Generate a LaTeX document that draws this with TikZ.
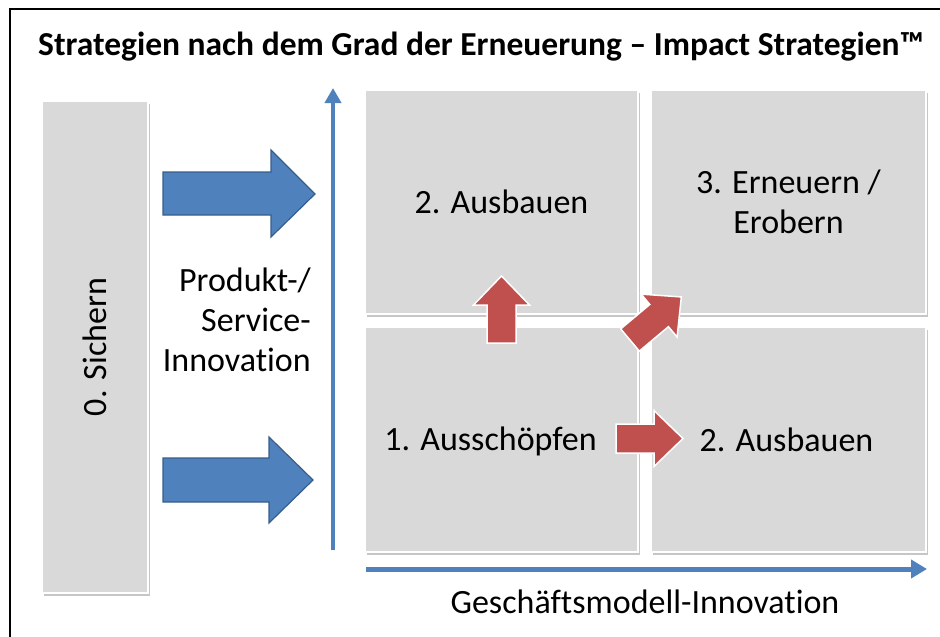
\documentclass[tikz,border=0pt]{standalone}
\usepackage{fontspec}
\setmainfont{Carlito}[Ligatures={NoCommon}]
\usetikzlibrary{arrows.meta,shadows}
\definecolor{boxgray}{HTML}{D9D9D9}
\definecolor{axisblue}{HTML}{4F81BD}
\definecolor{edgeblue}{HTML}{385D8A}
\definecolor{stepred}{HTML}{C0504D}

\begin{document}
\begin{tikzpicture}[x=1pt,y=-1pt,
  every node/.style={font=\fontsize{34}{40}\selectfont,inner sep=0pt},
  field/.style={rectangle,fill=boxgray,draw=white,line width=1.5pt,
    drop shadow={shadow xshift=2pt,shadow yshift=-3pt,fill=black!50,opacity=.45}},
  blockarrow/.style={fill=axisblue,draw=edgeblue,line width=1.2pt,line join=miter},
  redarrow/.style={fill=stepred,draw=white,line width=1.5pt,line join=miter},
  axis/.style={axisblue,line width=4pt}]
\useasboundingbox (0,0) rectangle (940,637);
% frame and title
\draw[line width=2.5pt] (10,637) |- (940,9);
\node[font=\fontsize{33.5}{40}\selectfont\bfseries] (title) at (481,47) {Strategien nach dem Grad der Erneuerung – Impact Strategien™};
% left column
\node[field,minimum width=106pt,minimum height=492pt] (sichern) at (95,347) {};
\node[rotate=90] (sichernText) at (sichern) {0. Sichern};
% blue block arrows
\draw[blockarrow] (163,172) -- (271,172) -- (271,150) -- (315,194) -- (271,237) -- (271,215) -- (163,215) -- cycle;
\draw[blockarrow] (163,458) -- (269,458) -- (269,437) -- (313,480) -- (269,523) -- (269,502) -- (163,502) -- cycle;
\node[align=right,anchor=east] (produkt) at (311,320) {Produkt-/\\Service-\\Innovation};
% axes
\coordinate (vBot) at (333,550);
\coordinate (vTop) at (333,88);
\coordinate (hLeft) at (366,569);
\coordinate (hRight) at (927,569);
\draw[axis,-{Triangle[length=15pt,width=16pt]}] (vBot) -- (vTop);
\draw[axis,line width=5pt,-{Triangle[length=16pt,width=18pt]}] (hLeft) -- (hRight);
\node (geschaeft) at (645,602) {Geschäftsmodell-Innovation};
% quadrants
\node[field,minimum width=273pt,minimum height=224pt] (tl) at (501.5,202) {2. Ausbauen};
\node[field,minimum width=275pt,minimum height=224pt,align=center] (tr) at (788.5,202) {3. Erneuern /\\Erobern};
\node[field,minimum width=273pt,minimum height=225pt] (bl) at (501.5,439.5) {};
\node[field,minimum width=275pt,minimum height=225pt] (br) at (788.5,439.5) {};
\node (ausschoepfen) at ([xshift=-11pt,yshift=-2pt]bl.center) {1. Ausschöpfen};
\node (ausbauenBr) at ([xshift=-2pt]br.center) {2. Ausbauen};
% red step arrows
\foreach \pos/\ang in {{(501.5,343)}/90,{(630,340)}/40,{(616,438.5)}/0}
  \draw[redarrow,shift={\pos},rotate=\ang] (0,-14.5) -- (38,-14.5) -- (38,-28) -- (67,0) -- (38,28) -- (38,14.5) -- (0,14.5) -- cycle;
\end{tikzpicture}
\end{document}
